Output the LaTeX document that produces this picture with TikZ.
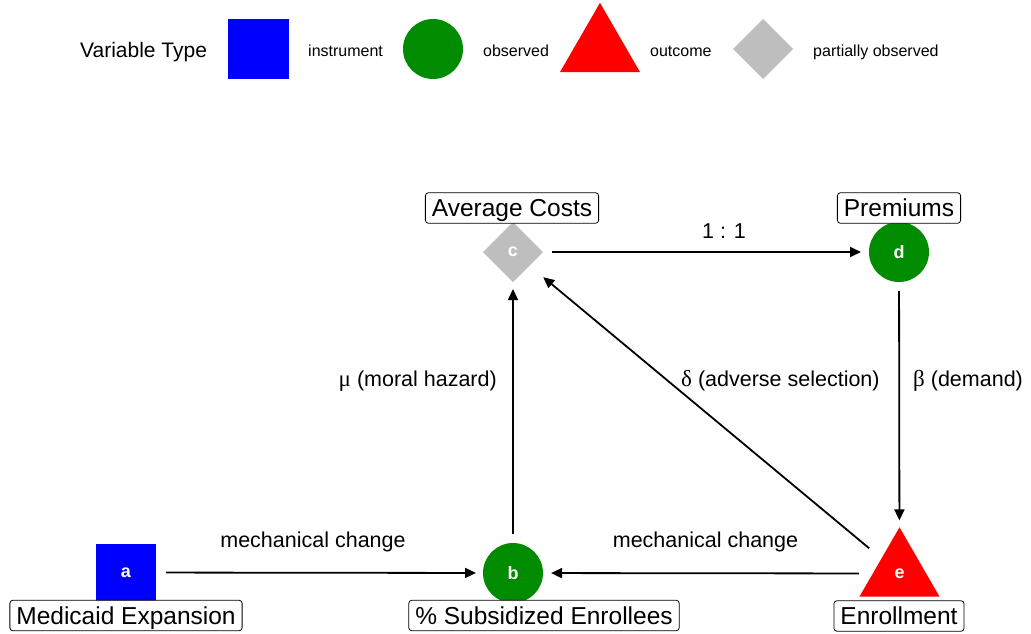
\documentclass[tikz,border=0pt]{standalone}
\usepackage{fontspec}
\setmainfont{Liberation Sans}
\newfontfamily\grk{Liberation Serif}
\usetikzlibrary{shapes.geometric,arrows.meta}
\definecolor{instr}{RGB}{0,0,255}
\definecolor{obsv}{RGB}{0,139,0}
\definecolor{outc}{RGB}{255,0,0}
\definecolor{partial}{RGB}{190,190,190}
\begin{document}
\begin{tikzpicture}[x=1pt,y=-1pt,
  lbl/.style={draw=black,line width=0.8pt,rounded corners=3pt,fill=white,inner xsep=6.5pt,inner ysep=0pt,
    text height=20pt,text depth=2.5pt,minimum height=30.5pt,font=\fontsize{24.5}{26}\selectfont},
  elabel/.style={inner sep=0pt,font=\fontsize{21.5}{24}\selectfont},
  legtext/.style={inner sep=0pt,font=\fontsize{16}{18}\selectfont},
  letter/.style={text=white,font=\fontsize{18}{20}\selectfont\bfseries},
  sqnode/.style={rectangle,fill=instr,inner sep=0pt,outer sep=0pt},
  obsnode/.style={circle,fill=obsv,inner sep=0pt,outer sep=0pt,minimum size=60pt},
  outnode/.style={regular polygon,regular polygon sides=3,fill=outc,inner sep=0pt,outer sep=0pt,minimum size=92.4pt},
  partnode/.style={diamond,fill=partial,inner sep=0pt,outer sep=0pt,minimum width=60pt,minimum height=60pt},
  edge/.style={line width=1.8pt,-{Triangle[length=11pt,width=10pt]}}
]
\useasboundingbox (0,0) rectangle (1031,633);

% legend
\node[anchor=base west,inner sep=0pt,font=\fontsize{21}{24}\selectfont] (legtitle) at (80,57) {Variable Type};
\node[sqnode,minimum width=61pt,minimum height=60pt] (legsq) at (258.5,49) {};
\node[legtext,anchor=base west] (legins) at (308,56) {instrument};
\node[obsnode] (legcirc) at (433,49) {};
\node[legtext,anchor=base west] (legobs) at (483,56) {observed};
\node[outnode] (legtri) at (600,49) {};
\node[legtext,anchor=base west] (legout) at (650,56) {outcome};
\node[partnode] (legdia) at (763,49) {};
\node[legtext,anchor=base west] (legpart) at (813,56) {partially observed};

% main nodes
\node[sqnode,minimum width=60pt,minimum height=57pt,letter] (a) at (126,572.5) {a};
\node[obsnode,letter] (b) at (513,573) {b};
\node[partnode,letter] (c) at (513,252) {c};
\node[obsnode,letter] (d) at (899,252) {d};
\node[outnode,letter] (e) at (899.5,573.5) {e};

% edges
\draw[edge,shorten <=10pt,shorten >=7pt] (a) -- (b);
\draw[edge,shorten <=9.5pt,shorten >=7pt] (b) -- (c);
\draw[edge,shorten <=9pt,shorten >=8pt] (c) -- (d);
\draw[edge,shorten <=9pt,shorten >=7pt] (d) -- (e);
\draw[edge,shorten <=14pt,shorten >=8pt] (e) -- (b);
\draw[edge,shorten <=16pt,shorten >=18pt] (e) -- (c);

% edge labels
\node[elabel,anchor=base] (lab1) at (313,547) {mechanical change};
\node[elabel,anchor=base] (lab2) at (705.5,547) {mechanical change};
\node[elabel,anchor=base] (lab3) at (724,238) {1 : 1};
\node[elabel,anchor=base east] (lab4) at (497,386) {{\grk\fontsize{23}{24}\selectfont μ} (moral hazard)};
\node[elabel,anchor=base west] (lab5) at (681,386) {{\grk\fontsize{23}{24}\selectfont δ} (adverse selection)};
\node[elabel,anchor=base west] (lab6) at (913,386) {{\grk\fontsize{23}{24}\selectfont β} (demand)};

% node labels
\node[lbl] (la) at (126,615.5) {Medicaid Expansion};
\node[lbl] (lb) at (544,615.5) {\% Subsidized Enrollees};
\node[lbl] (lc) at (512,208) {Average Costs};
\node[lbl] (ld) at (899,208) {Premiums};
\node[lbl] (le) at (899,616) {Enrollment};
\end{tikzpicture}
\end{document}
